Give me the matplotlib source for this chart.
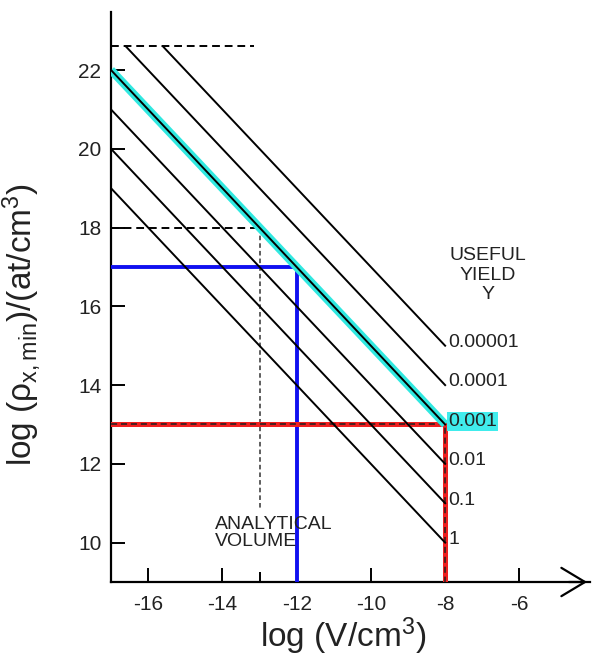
import matplotlib
matplotlib.use('Agg')
import matplotlib.pyplot as plt

plt.rcParams['font.family'] = ['Liberation Sans', 'DejaVu Sans']
plt.rcParams['mathtext.fontset'] = 'custom'
plt.rcParams['mathtext.rm'] = 'Liberation Sans'
plt.rcParams['mathtext.it'] = 'Liberation Sans'
plt.rcParams['mathtext.bf'] = 'Liberation Sans:bold'
plt.rcParams['axes.unicode_minus'] = False

# iso-yield lines: log(rho_min) against log(V), one per useful yield Y
yield_labels = ['1', '0.1', '0.01', '0.001', '0.0001', '0.00001']
line_x0 = [-17.0, -17.0, -17.0, -17.0, -16.6, -15.6]
line_y0 = [19.0, 20.0, 21.0, 22.0, 22.6, 22.6]
line_x1 = [-8.0, -8.0, -8.0, -8.0, -8.0, -8.0]
line_y1 = [10.0, 11.0, 12.0, 13.0, 14.0, 15.0]
highlight = '0.001'

# guide lines
upper_limit = 22.6          # dashed cap at the top
upper_limit_end = -13.15
vol_dashed_x = -13.0
vol_dashed_y = 18.0
vol_dashed_bottom = 10.85
blue_x, blue_y = -12.0, 17.0
red_x, red_y = -8.0, 13.0

x_ticks = [-16, -14, -12, -10, -8, -6]
y_ticks = [10, 12, 14, 16, 18, 20, 22]

fig = plt.figure(figsize=(5.92, 6.58), dpi=100)
ax = fig.add_axes([0.1875, 0.1155, 0.809, 0.866])
ax.set_xlim(-17, -4.1)
ax.set_ylim(9, 23.47)

txt = '#222222'
dash = (0, (4, 2.5))

# dashed guides
ax.plot([-17, upper_limit_end], [upper_limit, upper_limit], color='black', lw=1.4, ls=dash, zorder=2)
ax.plot([-17, vol_dashed_x], [vol_dashed_y, vol_dashed_y], color='black', lw=1.4, ls=dash, zorder=2)
ax.plot([vol_dashed_x, vol_dashed_x], [vol_dashed_y, vol_dashed_bottom], color='#333333', lw=1.1,
        ls=(0, (3, 2)), zorder=2)

# blue: analytical volume at 10^-12 cm^3
ax.plot([-17, blue_x, blue_x], [blue_y, blue_y, 9], color='#1010f0', lw=2.8, zorder=3,
        solid_joinstyle='miter')

# red: detection limit at Y = 0.001
ax.plot([-17, red_x, red_x], [red_y, red_y, 9], color='#f02020', lw=3.6, zorder=3,
        solid_joinstyle='miter')
ax.plot([-17, red_x, red_x], [red_y, red_y, 9], color='#202020', lw=1.1, ls=dash, zorder=4)

for lab, x0, y0, x1, y1 in zip(yield_labels, line_x0, line_y0, line_x1, line_y1):
    if lab == highlight:
        ax.plot([x0, x1], [y0, y1], color='#30e8e0', lw=6, zorder=4, solid_capstyle='butt')
    ax.plot([x0, x1], [y0, y1], color='black', lw=1.4, zorder=5)
    bbox = None
    if lab == highlight:
        bbox = dict(facecolor='#40ecec', edgecolor='none', pad=0.6)
    ax.text(x1 + 0.08, y1 + 0.08, lab, fontsize=14, color=txt, ha='left', va='center',
            bbox=bbox, zorder=6)

ax.text(-6.85, 17.5, 'USEFUL\nYIELD\nY', fontsize=14, color=txt, ha='center', va='top',
        linespacing=1.2)
ax.text(-14.2, 10.68, 'ANALYTICAL\nVOLUME', fontsize=14, color=txt, ha='left', va='top',
        linespacing=1.05)

# axes
for side in ['top', 'right']:
    ax.spines[side].set_visible(False)
ax.spines['left'].set_linewidth(1.6)
ax.spines['bottom'].set_linewidth(1.6)
ax.annotate('', xy=(1.0, 0.0), xytext=(0.95, 0.0), xycoords='axes fraction',
            arrowprops=dict(arrowstyle='->,head_length=1.0,head_width=0.6', lw=1.6,
                            color='black', mutation_scale=17), annotation_clip=False)

ax.set_xticks(x_ticks)
ax.set_xticks([-13], minor=True)
ax.set_yticks(y_ticks)
ax.tick_params(axis='both', which='major', direction='in', length=10, width=1.4,
               labelsize=15, labelcolor=txt)
ax.tick_params(axis='x', which='major', pad=9)
ax.tick_params(axis='y', which='major', pad=7)
ax.tick_params(axis='x', which='minor', direction='in', length=7, width=1.4)

ax.set_xlabel(r'log (V/cm$^3$)', fontsize=24, color=txt)
ax.set_ylabel(r'log ($\rho_{\mathrm{x,min}}$)/(at/cm$^3$)', fontsize=24, color=txt)
ax.xaxis.set_label_coords(0.485, -0.058)
ax.yaxis.set_label_coords(-0.142, 0.451)

fig.savefig('out.png', dpi=100)
